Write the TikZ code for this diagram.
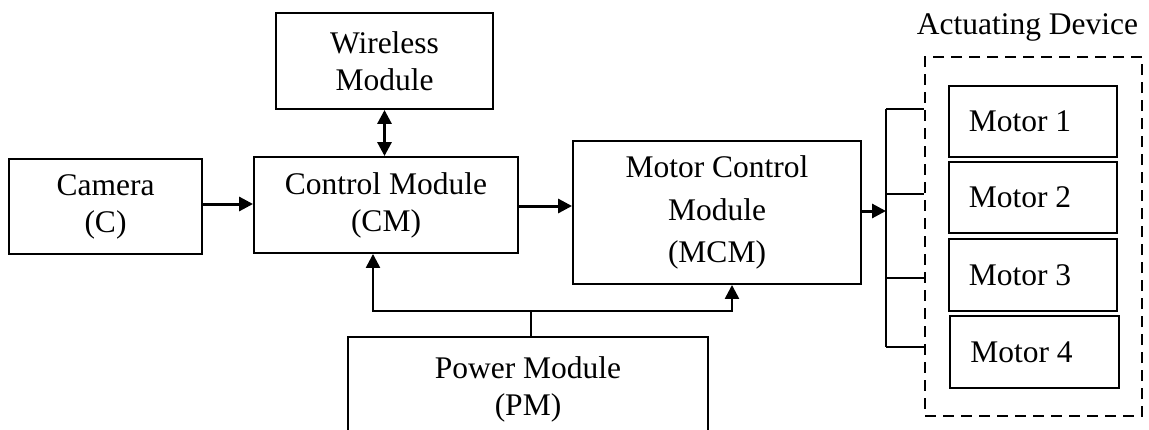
\documentclass[tikz,border=0pt]{standalone}
\usepackage{fontspec}
\setmainfont{Liberation Serif}
\usetikzlibrary{arrows.meta,calc}
\begin{document}
\begin{tikzpicture}[x=1pt,y=-1pt,
  box/.style={draw,line width=1.9pt,inner sep=0pt,align=center,font=\fontsize{31.5}{37}\selectfont},
  mbox/.style={box,minimum width=168pt,minimum height=71pt},
  conn/.style={line width=1.8pt},
  arr/.style={line width=3pt,-{Triangle[length=14pt,width=14pt]}},
  darr/.style={line width=3pt,{Triangle[length=14pt,width=14pt]}-{Triangle[length=14pt,width=14pt]}},
  parr/.style={line width=2.4pt,-{Triangle[length=14pt,width=14pt]}}]
\useasboundingbox (0,0) rectangle (1149,429);
\clip (0,0) rectangle (1149,429);
\node[box,minimum width=193pt,minimum height=95pt] (cam) at (105.5,206.5) {Camera\\(C)};
\node[box,minimum width=264pt,minimum height=96pt] (cm) at (386,205) {Control Module\\(CM)};
\node[box,minimum width=217pt,minimum height=96pt] (wm) at (384.5,61) {Wireless\\Module};
\node[box,minimum width=288pt,minimum height=143pt,font=\fontsize{31.5}{42.5}\selectfont] (mcm) at (717,212.5) {Motor Control\\Module\\(MCM)};
\node[box,minimum width=360pt,minimum height=104pt] (pm) at (528,389) {Power Module\\(PM)};
\node[draw,dashed,dash pattern=on 11pt off 7pt,line width=1.9pt,minimum width=217pt,minimum height=359pt,inner sep=0pt] (ad) at (1033.5,236.5) {};
\node[font=\fontsize{31.5}{37}\selectfont,anchor=south] (adl) at ($(ad.north)+(-6,-11)$) {Actuating Device};
\node[mbox] (m1) at (1033,121.5) {Motor 1\hspace*{26pt}};
\node[mbox] (m2) at (1033,197.5) {Motor 2\hspace*{26pt}};
\node[mbox,minimum height=72pt] (m3) at (1033,275) {Motor 3\hspace*{26pt}};
\node[mbox,minimum width=169pt,minimum height=72pt] (m4) at (1034.5,352) {Motor 4\hspace*{26pt}};
% bus
\coordinate (b1) at (886,109);
\coordinate (b2) at (886,194);
\coordinate (b3) at (886,278);
\coordinate (b4) at (886,347);
\coordinate (bin) at (886,211);
\draw[conn] (b1) -- (b4);
\foreach \b in {b1,b2,b3,b4} \draw[conn] (\b) -- (\b -| ad.west);
% arrows
\draw[arr] (cam.east |- 0,204) -- (cm.west |- 0,204);
\draw[arr] (cm.east |- 0,206) -- (mcm.west |- 0,206);
\draw[arr] (mcm.east |- bin) -- (bin);
\draw[darr] (wm.south) -- (wm.south |- cm.north);
% power
\coordinate (j) at (531,311);
\draw[conn] (pm.north -| j) -- (j);
\draw[parr] (j) -| (373,0 |- cm.south);
\draw[parr] (j) -| (732,0 |- mcm.south);
\end{tikzpicture}
\end{document}
